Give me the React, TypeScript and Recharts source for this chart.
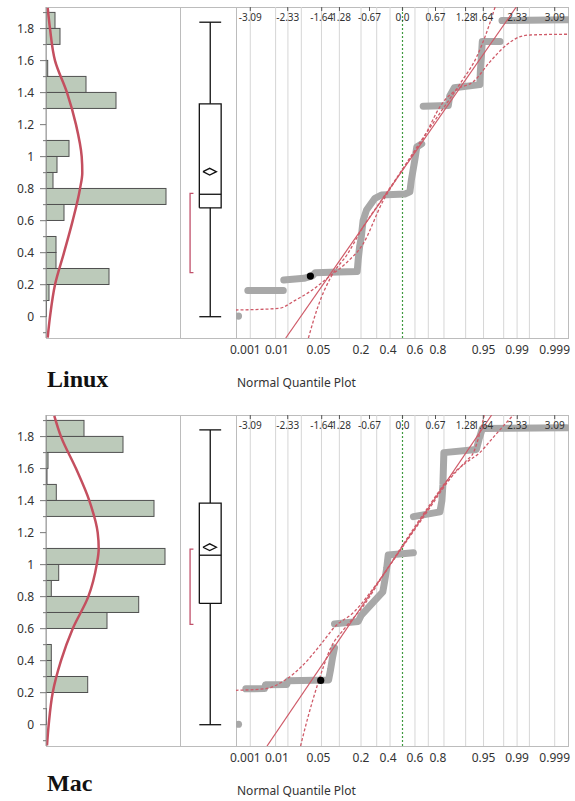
import React from "react";
import {
  ComposedChart,
  Bar,
  Line,
  Scatter,
  XAxis,
  YAxis,
  ReferenceLine,
} from "recharts";

// ---- shared axes ----
const yTicks = [-0.1, 0, 0.1, 0.2, 0.3, 0.4, 0.5, 0.6, 0.7, 0.8, 0.9, 1, 1.1, 1.2, 1.3, 1.4, 1.5, 1.6, 1.7, 1.8, 1.9];
const zTicks = [-3.09, -2.33, -1.64, -1.28, -0.67, 0, 0.67, 1.28, 1.64, 2.33, 3.09];
const probLabels = ["0.001", "0.01", "0.05", "0.2", "0.4", "0.6", "0.8", "0.95", "0.99", "0.999"];
const probLabelZ = [-3.09, -2.326, -1.645, -0.842, -0.253, 0.253, 0.842, 1.645, 2.326, 3.09];
// probability grid: 0.001 .005 .01 .02 .05 .1 .2 .3 .4 | .6 .7 .8 .9 .95 .98 .99 .995 .999
const gridZ = [-3.09, -2.576, -2.326, -2.054, -1.645, -1.282, -0.842, -0.524, -0.253, 0.253, 0.524, 0.842, 1.282, 1.645, 2.054, 2.326, 2.576, 3.09];

// ---- histogram bins (0.1 wide) ----
const binMids = [-0.05, 0.05, 0.15, 0.25, 0.35, 0.45, 0.55, 0.65, 0.75, 0.85, 0.95, 1.05, 1.15, 1.25, 1.35, 1.45, 1.55, 1.65, 1.75, 1.85];
const linuxCounts = [0, 0.5, 3, 63, 10, 10, 0, 18, 120, 7, 11, 23, 0, 0, 70, 40, 1.7, 0, 14, 9];
const macCounts = [0, 0.5, 0, 41.7, 5.3, 5.3, 0, 61, 92.7, 5.3, 12.7, 119, 0, 0, 108, 10.3, 1, 2, 77, 38];

// fitted normal curve
const linuxDensV = [-0.13, 0, 0.2, 0.4, 0.6, 0.8, 0.9, 1.0, 1.2, 1.4, 1.6, 1.8, 1.93];
const linuxDens = [1.7, 4, 9, 18, 26.7, 34, 36.3, 35.7, 30, 21, 9, 4, 1.7];
const macDensV = [-0.13, 0, 0.2, 0.4, 0.6, 0.8, 1.0, 1.1, 1.2, 1.4, 1.6, 1.8, 1.93];
const macDens = [1, 2.7, 6.7, 15, 26.7, 42.3, 50.7, 52.7, 51.7, 43.3, 30, 15, 8.3];

// box plot: min, q1, median, q3, max
const linuxBox = [0, 0.68, 0.765, 1.33, 1.84];
const macBox = [0, 0.758, 1.059, 1.385, 1.842];
const linuxMean = [0.906, 0.021];
const macMean = [1.109, 0.021];
const linuxShortHalf = [0.275, 0.77];
const macShortHalf = [0.627, 1.097];

// normal quantile plot: sorted values vs normal quantile (null = gap)
const linuxQz = [-3.14, -2.42, -2.415, -2.41, -2.0, -1.83, -1.77, -1.3, -0.92, -0.9, -0.87, -0.84, -0.8, -0.73, -0.56, -0.43, 0.05, 0.15, 0.18, 0.25, 0.29, 0.39, 0.4, 0.42, 0.93, 0.96, 1.05, 1.57, 1.58, 1.6, 1.62, 1.98, 2.0, 2.02, 3.37];
const linuxQv = [0.163, 0.163, null, 0.229, 0.24, 0.255, 0.275, 0.279, 0.282, 0.354, 0.44, 0.49, 0.6, 0.667, 0.74, 0.76, 0.767, 0.78, 0.854, 0.98, 1.06, 1.08, null, 1.315, 1.32, 1.38, 1.43, 1.45, 1.53, 1.62, 1.72, 1.72, null, 1.85, 1.855];
const macQz = [-3.18, -2.8, -2.78, -2.35, -2.32, -1.5, -1.46, -1.42, -1.38, -1.375, -1.38, -0.9, -0.86, -0.84, -0.56, -0.4, -0.36, -0.32, -0.29, 0.22, 0.221, 0.222, 0.76, 0.8, 0.82, 0.84, 1.5, 1.56, 1.62, 3.34];
const macQv = [0.224, 0.226, 0.25, 0.252, 0.275, 0.28, 0.345, 0.42, 0.48, null, 0.63, 0.645, 0.67, 0.683, 0.777, 0.83, 0.9, 0.98, 1.06, 1.075, null, 1.3, 1.33, 1.4, 1.5, 1.7, 1.72, 1.79, 1.85, 1.855];
const linuxOutlier = [-3.33, 0.004];
const macOutlier = [-3.33, 0.003];
const linuxMarked = [-1.87, 0.254];
const macMarked = [-1.66, 0.277];

// normal fit line and confidence curves
const linuxFitZ = [-2.37, 2.31];
const linuxFitV = [-0.133, 1.935];
const macFitZ = [-2.75, 1.81];
const macFitV = [-0.133, 1.935];
const linuxBand1Z = [-3.39, -2.51, -2.17, -1.83, -1.49, -1.15, -0.81, -0.4, 0, 0.4, 0.8, 1.2, 1.5, 1.7, 1.88];
const linuxBand1V = [0.042, 0.052, 0.104, 0.167, 0.25, 0.334, 0.45, 0.72, 0.92, 1.11, 1.29, 1.47, 1.62, 1.77, 1.935];
const linuxBand2Z = [-1.91, -1.72, -1.45, -1.12, -0.8, -0.4, 0, 0.4, 0.8, 1.1, 1.44, 1.78, 2.12, 2.39, 2.59, 3.39];
const linuxBand2V = [-0.133, 0.06, 0.25, 0.39, 0.56, 0.74, 0.92, 1.1, 1.33, 1.42, 1.469, 1.594, 1.7, 1.75, 1.76, 1.765];
const macBand1Z = [-3.39, -2.8, -2.4, -2.06, -1.65, -1.38, -1.0, -0.5, 0, 0.5, 1.0, 1.3, 1.44, 1.55, 1.66];
const macBand1V = [0.215, 0.224, 0.276, 0.36, 0.505, 0.61, 0.7, 0.89, 1.11, 1.33, 1.55, 1.65, 1.7, 1.8, 1.935];
const macBand2Z = [-2.07, -1.92, -1.72, -1.45, -1.18, -0.8, -0.4, 0, 0.5, 1.0, 1.3, 1.57, 1.8, 2.0, 2.25];
const macBand2V = [-0.133, 0.046, 0.255, 0.484, 0.6, 0.74, 0.93, 1.12, 1.35, 1.56, 1.64, 1.7, 1.78, 1.85, 1.935];

// ---- layout ----
const PLOT_H = 331;
const Y_DOMAIN: [number, number] = [-0.133, 1.935];
const Z_DOMAIN: [number, number] = [-3.38, 3.38];
const COUNT_MAX = 134;
const BIN_PX = (0.1 * PLOT_H) / (Y_DOMAIN[1] - Y_DOMAIN[0]);
const FONT = "'Noto Sans', 'Open Sans', sans-serif";
const NO_MARGIN = { top: 0, right: 0, bottom: 0, left: 0 };

const zip = (zs: number[], vs: (number | null)[]) => zs.map((z, i) => ({ z, v: vs[i] }));

function ValueTick({ x, y, payload }: any) {
  const v = payload.value;
  const major = Math.round(v * 10) % 2 === 0;
  const ax = x + 12;
  return (
    <g>
      <line x1={ax - (major ? 6 : 3)} x2={ax} y1={y} y2={y} stroke="#777" />
      {major && (
        <text x={x} y={y} dy="0.36em" textAnchor="end" fontSize={12} fill="#333" fontFamily={FONT}>
          {String(Math.round(v * 10) / 10)}
        </text>
      )}
    </g>
  );
}

function ProbTick({ x, y, payload }: any) {
  const i = probLabelZ.indexOf(payload.value);
  const shift = [-5, -11, -3, 0, -2, 0, -6, 0, 0, 0][i] || 0;
  return (
    <text x={x + shift} y={y} dy="0.71em" textAnchor="middle" fontSize={12} fill="#333" fontFamily={FONT}>
      {probLabels[i]}
    </text>
  );
}

// histogram bar: keep library's centre, fill the full 0.1 bin height
function BinBar(s: any) {
  if (!s.width || s.width <= 0) return null;
  const cy = s.y + s.height / 2;
  return (
    <rect x={s.x} y={cy - BIN_PX / 2} width={s.width} height={BIN_PX} fill="#bccaba" stroke="#505050" strokeWidth={1} />
  );
}

type PanelProps = {
  top: number;
  title: string;
  titleTop: number;
  counts: number[];
  densV: number[];
  dens: number[];
  box: number[];
  mean: number[];
  shortHalf: number[];
  qz: number[];
  qv: (number | null)[];
  outlier: number[];
  marked: number[];
  fitZ: number[];
  fitV: number[];
  b1z: number[];
  b1v: number[];
  b2z: number[];
  b2v: number[];
};

function Panel(p: PanelProps) {
  const bins = binMids.map((v, i) => ({ v, n: p.counts[i] }));
  const density = p.densV.map((v, i) => ({ v, d: p.dens[i] }));
  const [mn, q1, md, q3, mx] = p.box;
  const [mu, ci] = p.mean;
  // horizontal placement inside the box-plot strip (0..1)
  const L = 0.345, R = 0.735, C = 0.54;
  const boxSegs = [
    [[C, mn], [C, q1]],
    [[C, q3], [C, mx]],
    [[L, mn], [R, mn]],
    [[L, mx], [R, mx]],
    [[L, q1], [R, q1], [R, q3], [L, q3], [L, q1]],
    [[L, md], [R, md]],
    [[0.41, mu], [0.53, mu + ci], [0.65, mu], [0.53, mu - ci], [0.41, mu]],
  ].map((s) => s.map(([x, v]) => ({ x, v })));
  const bracket = [
    [0.24, p.shortHalf[0]],
    [0.18, p.shortHalf[0]],
    [0.18, p.shortHalf[1]],
    [0.24, p.shortHalf[1]],
  ].map(([x, v]) => ({ x, v }));

  const line = {
    xAxisId: "b",
    dataKey: "v",
    dot: false,
    activeDot: false,
    isAnimationActive: false,
  } as any;

  return (
    <div style={{ position: "absolute", left: 0, top: p.top, width: 575, height: 400 }}>
      {/* frame */}
      <div
        style={{
          position: "absolute",
          left: 46,
          top: 7,
          width: 523,
          height: PLOT_H + 1,
          border: "1px solid #bcbcbc",
          boxSizing: "border-box",
        }}
      />
      <div style={{ position: "absolute", left: 180, top: 7, width: 1, height: PLOT_H, background: "#bcbcbc" }} />
      <div style={{ position: "absolute", left: 236, top: 7, width: 1, height: PLOT_H, background: "#bcbcbc" }} />

      {/* histogram */}
      <div style={{ position: "absolute", left: 0, top: 7 }}>
        <ComposedChart layout="vertical" width={180} height={PLOT_H} data={bins} margin={NO_MARGIN}>
          <XAxis type="number" domain={[0, COUNT_MAX]} allowDataOverflow hide />
          <YAxis
            type="number"
            dataKey="v"
            domain={Y_DOMAIN}
            allowDataOverflow
            reversed
            ticks={yTicks}
            interval={0}
            width={46}
            tickSize={6}
            tickMargin={6}
            tickLine={false}
            axisLine={{ stroke: "#9a9a9a" }}
            tick={<ValueTick />}
          />
          <Bar dataKey="n" shape={BinBar} isAnimationActive={false} />
          <Line
            data={density}
            dataKey="d"
            type="monotone"
            stroke="#c44f5f"
            strokeWidth={2.5}
            dot={false}
            activeDot={false}
            isAnimationActive={false}
          />
        </ComposedChart>
      </div>

      {/* box plot */}
      <div style={{ position: "absolute", left: 180, top: 7 }}>
        <ComposedChart width={56} height={PLOT_H} margin={NO_MARGIN}>
          <XAxis type="number" dataKey="x" domain={[0, 1]} allowDataOverflow hide />
          <YAxis type="number" dataKey="v" domain={Y_DOMAIN} allowDataOverflow hide />
          {boxSegs.map((d, i) => (
            <Line
              key={i}
              data={d}
              dataKey="v"
              type="linear"
              stroke="#111"
              strokeWidth={1.3}
              dot={false}
              activeDot={false}
              isAnimationActive={false}
            />
          ))}
          <Line
            data={bracket}
            dataKey="v"
            type="linear"
            stroke="#c0506a"
            strokeWidth={1.3}
            dot={false}
            activeDot={false}
            isAnimationActive={false}
          />
        </ComposedChart>
      </div>

      {/* normal quantile plot */}
      <div style={{ position: "absolute", left: 216, top: 7 }}>
        <ComposedChart width={359} height={PLOT_H + 30} margin={{ top: 0, right: 6, bottom: 0, left: 20 }}>
          <XAxis
            xAxisId="b"
            type="number"
            dataKey="z"
            domain={Z_DOMAIN}
            allowDataOverflow
            ticks={probLabelZ}
            interval={0}
            height={30}
            axisLine={false}
            tickLine={false}
            tickSize={4}
            tickMargin={3}
            tick={<ProbTick />}
          />
          <XAxis
            xAxisId="t"
            orientation="top"
            mirror
            type="number"
            dataKey="z"
            domain={Z_DOMAIN}
            allowDataOverflow
            ticks={zTicks}
            interval={0}
            axisLine={false}
            tickSize={4}
            tickMargin={3}
            tickLine={{ stroke: "#555" }}
            tick={{ fontSize: 10, fill: "#333", fontFamily: FONT }}
            tickFormatter={(z: number) => (z === 0 ? "0.0" : String(z))}
          />
          <YAxis type="number" dataKey="v" domain={Y_DOMAIN} allowDataOverflow hide />
          {gridZ.map((z) => (
            <ReferenceLine key={z} xAxisId="b" x={z} stroke="#d6d6d6" strokeWidth={1} />
          ))}
          <ReferenceLine xAxisId="b" x={0} stroke="#3f9a3f" strokeWidth={1.2} strokeDasharray="2 2" />
          <Line
            {...line}
            data={zip(p.qz, p.qv)}
            type="linear"
            stroke="#a8a8a8"
            strokeWidth={7}
            strokeLinecap="round"
            strokeLinejoin="round"
          />
          <Line {...line} data={zip(p.fitZ, p.fitV)} type="linear" stroke="#cf5a68" strokeWidth={1.2} />
          <Line {...line} data={zip(p.b1z, p.b1v)} type="monotone" stroke="#cf5a68" strokeWidth={1.3} strokeDasharray="3 2" />
          <Line {...line} data={zip(p.b2z, p.b2v)} type="monotone" stroke="#cf5a68" strokeWidth={1.3} strokeDasharray="3 2" />
          <Scatter
            xAxisId="b"
            dataKey="v"
            data={[{ z: p.outlier[0], v: p.outlier[1] }]}
            isAnimationActive={false}
            shape={(s: any) => <circle cx={s.cx} cy={s.cy} r={3.6} fill="#a8a8a8" />}
          />
          <Scatter
            xAxisId="b"
            dataKey="v"
            data={[{ z: p.marked[0], v: p.marked[1] }]}
            isAnimationActive={false}
            shape={(s: any) => <circle cx={s.cx} cy={s.cy} r={3.6} fill="#000" />}
          />
        </ComposedChart>
      </div>

      <div
        style={{
          position: "absolute",
          left: 237,
          top: 376,
          fontFamily: FONT,
          fontSize: 12,
          lineHeight: "14px",
          color: "#333",
          whiteSpace: "nowrap",
        }}
      >
        Normal Quantile Plot
      </div>
      <div
        style={{
          position: "absolute",
          left: 47,
          top: p.titleTop,
          fontFamily: "'Liberation Serif', 'Times New Roman', serif",
          fontWeight: "bold",
          fontSize: 24,
          lineHeight: "24px",
          color: "#111",
        }}
      >
        {p.title}
      </div>
    </div>
  );
}

export default function App() {
  return (
    <div
      style={{
        position: "absolute",
        left: 0,
        top: 0,
        width: 575,
        height: 801,
        background: "#fff",
        overflow: "hidden",
      }}
    >
      <Panel
        top={0}
        title="Linux"
        titleTop={367}
        counts={linuxCounts}
        densV={linuxDensV}
        dens={linuxDens}
        box={linuxBox}
        mean={linuxMean}
        shortHalf={linuxShortHalf}
        qz={linuxQz}
        qv={linuxQv}
        outlier={linuxOutlier}
        marked={linuxMarked}
        fitZ={linuxFitZ}
        fitV={linuxFitV}
        b1z={linuxBand1Z}
        b1v={linuxBand1V}
        b2z={linuxBand2Z}
        b2v={linuxBand2V}
      />
      <Panel
        top={408}
        title="Mac"
        titleTop={363}
        counts={macCounts}
        densV={macDensV}
        dens={macDens}
        box={macBox}
        mean={macMean}
        shortHalf={macShortHalf}
        qz={macQz}
        qv={macQv}
        outlier={macOutlier}
        marked={macMarked}
        fitZ={macFitZ}
        fitV={macFitV}
        b1z={macBand1Z}
        b1v={macBand1V}
        b2z={macBand2Z}
        b2v={macBand2V}
      />
    </div>
  );
}
